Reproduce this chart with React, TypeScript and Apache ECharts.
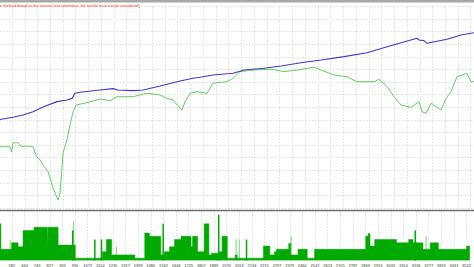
import { useEffect, useRef } from "react";
import * as echarts from "echarts";

// x-axis tick labels (trade numbers)
const TICK_LABELS = [
  582, 664, 745, 827, 909, 990, 1072, 1154, 1235, 1317, 1399, 1480, 1562, 1644,
  1725, 1807, 1889, 1970, 2052, 2134, 2215, 2297, 2379, 2460, 2542, 2624, 2705,
  2787, 2869, 2951, 3032, 3114, 3196, 3277, 3359, 3441, 3522,
];

// Balance (blue)
const BALANCE_TRADES = [
  505, 588, 652, 717, 781, 870, 934, 967, 986, 1018, 1146, 1229, 1261, 1358,
  1422, 1531, 1659, 1742, 1787, 1870, 1999, 2069, 2197, 2306, 2434, 2563, 2710,
  2857, 2986, 3178, 3191, 3223, 3242, 3370, 3460, 3543,
];
const BALANCE_VALUES = [
  703, 721, 739, 765, 802, 845, 858, 871, 911, 919, 937, 948, 937, 932, 937,
  969, 1009, 1030, 1038, 1056, 1070, 1096, 1110, 1128, 1154, 1175, 1202, 1233,
  1281, 1348, 1334, 1329, 1308, 1340, 1374, 1392,
];

// Equity (green)
const EQUITY_TRADES = [
  505, 569, 580, 588, 620, 644, 676, 717, 740, 761, 781, 813, 845, 877, 890,
  902, 909, 934, 954, 973, 992, 1063, 1146, 1210, 1255, 1358, 1447, 1531, 1575,
  1614, 1640, 1672, 1691, 1723, 1768, 1832, 1870, 1960, 1999, 2043, 2133, 2242,
  2325, 2409, 2518, 2563, 2646, 2729, 2793, 2902, 2934, 2986, 3031, 3075, 3140,
  3191, 3210, 3236, 3268, 3332, 3364, 3396, 3434, 3498, 3524, 3543,
];
const EQUITY_VALUES = [
  487, 487, 448, 517, 519, 487, 493, 487, 408, 382, 342, 289, 160, 64, 120, 318,
  437, 541, 660, 763, 818, 837, 866, 852, 884, 884, 911, 898, 871, 858, 818,
  779, 845, 911, 924, 911, 991, 1003, 1030, 1083, 1096, 1102, 1083, 1096, 1118,
  1096, 1056, 1043, 1003, 1003, 1022, 964, 884, 818, 800, 845, 765, 752, 832,
  779, 871, 924, 1043, 1070, 1003, 1003,
];

// Lower pane: stepped lot histogram
const LOT_TRADES = [
  505, 511, 580, 622, 654, 725, 811, 815, 881, 992, 1167, 1193, 1227, 1377,
  1441, 1471, 1545, 1567, 1601, 1633, 1676, 1740, 1750, 1783, 1825, 1856, 1872,
  1924, 1941, 1975, 2026, 2039, 2208, 2250, 2279, 2293, 2372, 2385, 2432, 2492,
  2539, 2870, 2885, 2898, 2928, 3069, 3148, 3176, 3240, 3287, 3340, 3522, 3543,
];
const LOT_VALUES = [
  37.4, 11.4, 18, 14, 30.7, 34, 12.7, 34, 15.7, 2.4, 9, 21.4, 5.7, 2.4, 28,
  24.7, 5.7, 9, 14, 21.4, 24.7, 14, 24.7, 9, 37.4, 5.7, 7.4, 9, 24.7, 2.4, 5.7,
  2.4, 14.7, 5.7, 9, 11.4, 17.4, 5.7, 11.4, 2.4, 11.4, 24.7, 27.4, 14.7, 21.4,
  18, 21.4, 18, 11.4, 18, 11.4, 14.7, 14.7,
];

// Thin dark peaks
const PEAK_TRADES = [971, 1114, 1157, 1556, 1915, 2095, 3186];
const PEAK_VALUES = [30.7, 21.4, 21.4, 37.4, 46.7, 21.4, 30.7];

// Thin light peaks
const LIGHT_TRADES = [576, 986, 1263, 2037, 2058, 2393, 3266];
const LIGHT_VALUES = [20.7, 40, 14, 21.4, 21.4, 24.7, 24.7];

const NOTE =
  "e method based on the nearest less timeframe, the results must not be considered]";

const zip = (a: number[], b: number[]) => a.map((v, i) => [v, b[i]]);

export default function App() {
  const ref = useRef<HTMLDivElement>(null);
  useEffect(() => {
    document.body.style.margin = "0";
    if (!ref.current) return;
    const chart = echarts.init(ref.current, null, { renderer: "svg" });
    const gridLine = {
      show: true,
      lineStyle: { color: "#dedede", type: [1.5, 1.5] as any, width: 1 },
    };
    const xBase = {
      type: "value" as const,
      min: 505,
      max: 3543,
      axisLine: { show: false },
      axisTick: { show: false, customValues: TICK_LABELS },
      splitLine: gridLine,
    };
    chart.setOption({
      animation: false,
      backgroundColor: "#ffffff",
      grid: [
        { left: 0, right: 0, top: 6.5, height: 201.6 },
        { left: 0, right: 0, top: 211.5, height: 49.2 },
      ],
      xAxis: [
        { ...xBase, gridIndex: 0, axisLabel: { show: false, customValues: TICK_LABELS } },
        {
          ...xBase,
          gridIndex: 1,
          axisLabel: {
            show: true,
            customValues: TICK_LABELS,
            fontSize: 4,
            color: "#333333",
            margin: 2.5,
            fontFamily: "Liberation Sans",
            formatter: (v: number) => String(Math.round(v)),
          },
        },
      ],
      yAxis: [
        {
          type: "value",
          gridIndex: 0,
          min: 0,
          max: 1600,
          interval: 100,
          axisLabel: { show: false },
          axisLine: { show: false },
          axisTick: { show: false },
          splitLine: gridLine,
        },
        {
          type: "value",
          gridIndex: 1,
          min: 0,
          max: 50,
          interval: 50,
          axisLabel: { show: false },
          axisLine: { show: false },
          axisTick: { show: false },
          splitLine: { show: false },
        },
      ],
      series: [
        {
          name: "Equity",
          type: "line",
          xAxisIndex: 0,
          yAxisIndex: 0,
          data: zip(EQUITY_TRADES, EQUITY_VALUES),
          symbol: "none",
          lineStyle: { color: "#5fcf5f", width: 1 },
          z: 2,
        },
        {
          name: "Balance",
          type: "line",
          xAxisIndex: 0,
          yAxisIndex: 0,
          data: zip(BALANCE_TRADES, BALANCE_VALUES),
          symbol: "none",
          lineStyle: { color: "#3a3ac8", width: 1.1 },
          z: 3,
        },
        {
          name: "LightPeaks",
          type: "bar",
          xAxisIndex: 1,
          yAxisIndex: 1,
          data: zip(LIGHT_TRADES, LIGHT_VALUES),
          barWidth: 1.2,
          itemStyle: { color: "#8cdc8c" },
          z: 1,
        },
        {
          name: "Lots",
          type: "line",
          step: "end",
          xAxisIndex: 1,
          yAxisIndex: 1,
          data: zip(LOT_TRADES, LOT_VALUES),
          symbol: "none",
          lineStyle: { color: "#00aa00", width: 0.5 },
          areaStyle: { color: "#00aa00", opacity: 1 },
          z: 2,
        },
        {
          name: "Peaks",
          type: "bar",
          xAxisIndex: 1,
          yAxisIndex: 1,
          data: zip(PEAK_TRADES, PEAK_VALUES),
          barWidth: 1.5,
          itemStyle: { color: "#00aa00" },
          z: 3,
        },
      ],
      graphic: [
        {
          type: "rect",
          shape: { x: 0, y: 0, width: 474, height: 2.5 },
          style: { fill: "#a8a8a8" },
          z: 10,
        },
        {
          type: "line",
          shape: { x1: 0, y1: 210.5, x2: 474, y2: 210.5 },
          style: { stroke: "#6e6e6e", lineWidth: 1.5 },
          z: 10,
        },
        {
          type: "text",
          x: 0,
          y: 5.8,
          style: {
            text: NOTE,
            fill: "#ff2a2a",
            fontSize: 3.8,
            fontFamily: "Liberation Sans",
            verticalAlign: "middle",
            align: "left",
          },
          z: 10,
        },
      ],
    });
    return () => chart.dispose();
  }, []);
  return (
    <div
      ref={ref}
      style={{ position: "fixed", left: 0, top: 0, width: 474, height: 267 }}
    />
  );
}
